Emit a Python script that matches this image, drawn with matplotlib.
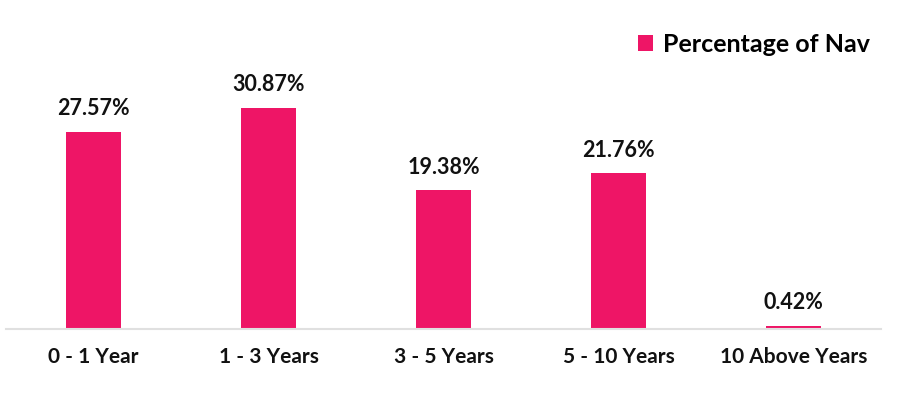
import matplotlib
matplotlib.use("Agg")
import matplotlib.pyplot as plt
from matplotlib.patches import Patch

categories = ["0 - 1 Year", "1 - 3 Years", "3 - 5 Years", "5 - 10 Years", "10 Above Years"]
values = [27.57, 30.87, 19.38, 21.76, 0.42]
series_name = "Percentage of Nav"

color = "#EE1566"
plt.rcParams['font.family'] = ['Lato', 'DejaVu Sans']

fig = plt.figure(figsize=(9.05, 4.04), dpi=100)
W, H = 905, 404
left, right = 6, 881
bottom = 329
top = 60
ax = fig.add_axes([left / W, 1 - bottom / H, (right - left) / W, (bottom - top) / H])

x = list(range(len(categories)))
ax.bar(x, values, width=55 / 175, color=color, zorder=2)
ax.set_xlim(-0.5, len(categories) - 0.5)
ymax = (bottom - top) / 7.16
ax.set_ylim(0, ymax)

for xi, v in zip(x, values):
    ax.annotate(f"{v:.2f}%", (xi, v), xytext=(0, 9), textcoords="offset points",
                ha="center", va="bottom", fontsize=15.5, fontweight="bold", color="#111111")

ax.set_xticks(x)
ax.set_xticklabels(categories, fontsize=15, fontweight="bold", color="#111111")
ax.tick_params(axis="x", length=0, pad=13)
ax.set_yticks([])
for s in ["top", "right", "left"]:
    ax.spines[s].set_visible(False)
ax.spines["bottom"].set_color("#e0e0e0")
ax.spines["bottom"].set_linewidth(1.5)

handles = [Patch(facecolor=color, label=series_name)]
fig.legend(handles=handles, loc="upper right", bbox_to_anchor=(892 / W, 1 - 10 / H),
           frameon=False, handlelength=0.6, handleheight=0.6,
           handletextpad=0.4, prop={"weight": "bold", "size": 18})

fig.savefig("out.png", dpi=100, facecolor="white")
